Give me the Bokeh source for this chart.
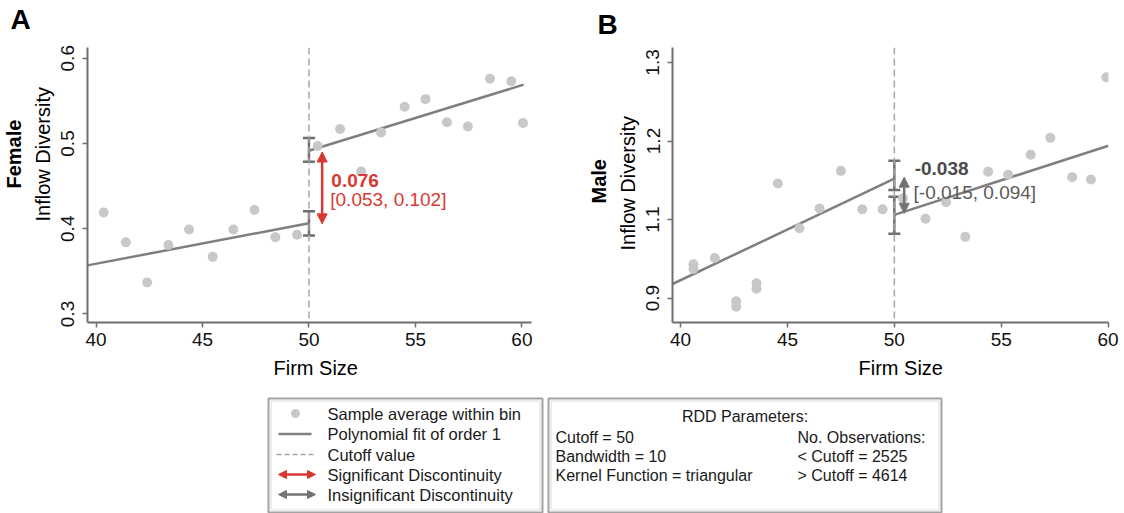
import math
from bokeh.plotting import figure
from bokeh.models import (Range1d, FixedTicker, ColumnDataSource, Whisker, TeeHead,
                          Arrow, NormalHead, Span, Label, Title)
from bokeh.layouts import column, row
from bokeh.embed import file_html
from bokeh.resources import INLINE
from bokeh.core.properties import value

FONT = "Liberation Sans"

# ---------------- data ----------------
x_ticks = [40, 45, 50, 55, 60]
cutoff = 50

# Panel A: Female
a_bin_x = [40.36, 41.4, 42.4, 43.4, 44.37, 45.48, 46.45, 47.44, 48.42, 49.44,
           50.41, 51.46, 52.45, 53.39, 54.49, 55.47, 56.48, 57.46, 58.5, 59.5, 60.05]
a_bin_y = [0.419, 0.384, 0.337, 0.381, 0.399, 0.367, 0.399, 0.422, 0.390, 0.393,
           0.497, 0.517, 0.467, 0.513, 0.543, 0.552, 0.525, 0.520, 0.576, 0.573, 0.524]
a_fit_left_x = [39.6, 50.0]
a_fit_left_y = [0.357, 0.4065]
a_fit_right_x = [50.0, 60.08]
a_fit_right_y = [0.4915, 0.569]
a_ci_left = [0.392, 0.4205]
a_ci_right = [0.4787, 0.5064]
a_jump = [0.4057, 0.490]
a_jump_x = 50.62
a_estimate = "0.076"
a_interval = "[0.053, 0.102]"
a_yticks = [0.3, 0.4, 0.5, 0.6]
a_ytick_labels = ["0.3", "0.4", "0.5", "0.6"]

# Panel B: Male (values on the drawn axis scale)
b_bin_x = [40.6, 40.6, 41.6, 42.6, 42.6, 43.55, 43.55, 44.55, 45.56, 46.5, 47.5, 48.5,
           49.45, 50.4, 51.46, 52.42, 53.32, 54.39, 55.32, 56.38, 57.3, 58.32, 59.2, 59.92]
b_bin_y = [1.043, 1.037, 1.051, 0.996, 0.989, 1.019, 1.012, 1.146, 1.089, 1.114, 1.162,
           1.113, 1.113, 1.127, 1.101, 1.122, 1.078, 1.161, 1.157, 1.1825, 1.204, 1.154,
           1.151, 1.281]
b_fit_left_x = [39.62, 50.0]
b_fit_left_y = [1.018, 1.152]
b_fit_right_x = [50.0, 60.02]
b_fit_right_y = [1.106, 1.194]
b_ci_left = [1.1375, 1.175]
b_ci_right = [1.082, 1.129]
b_jump = [1.108, 1.154]
b_jump_x = 50.46
b_estimate = "-0.038"
b_interval = "[-0.015, 0.094]"
b_yticks = [1.0, 1.1, 1.2, 1.3]
b_ytick_labels = ["0.9", "1.1", "1.2", "1.3"]

# legend / parameter texts
legend_labels = ["Sample average within bin", "Polynomial fit of order 1", "Cutoff value",
                 "Significant Discontinuity", "Insignificant Discontinuity"]
param_title = "RDD Parameters:"
param_left = ["Cutoff = 50", "Bandwidth = 10", "Kernel Function = triangular"]
param_right = ["No. Observations:", "< Cutoff = 2525", "> Cutoff = 4614"]

# ---------------- styles ----------------
DOT = "#c8c8c8"
FIT = "#7f7f7f"
AXIS = "#6e6e6e"
RED = "#d93832"
GREY_ARROW = "#737373"


def make_panel(width, height, xr, yr, borders, bx, by, flx, fly, frx, fry,
               ci_l, ci_r, jump, jx, est, interval, jcolor, est_color, int_color,
               yticks, ylabels, ann_xy, letter, letter_offset, spacer_px, group,
               ylab_offset, group_offset, xlab_offset):
    left, right, top, bottom = borders
    p = figure(width=width, height=height, x_range=Range1d(*xr), y_range=Range1d(*yr),
               output_backend="svg", toolbar_location=None, title=None,
               min_border_left=left, min_border_right=right,
               min_border_top=top, min_border_bottom=bottom)
    p.outline_line_color = None
    p.grid.visible = False
    p.background_fill_color = "white"
    p.border_fill_color = "white"

    # panel letter: a small spacer panel, then the letter (left aligned, shifted left)
    p.add_layout(Title(text=" ", text_font_size=f"{spacer_px}px", standoff=0), "above")
    p.add_layout(Title(text=letter, align="left", offset=letter_offset, text_font=FONT,
                       text_font_size="28px", text_font_style="bold", text_color="black",
                       standoff=2), "above")

    for ax in (p.xaxis[0], p.yaxis[0]):
        ax.axis_line_color = AXIS
        ax.axis_line_width = 2
        ax.major_tick_line_color = AXIS
        ax.major_tick_line_width = 1.5
        ax.major_tick_out = 5
        ax.major_tick_in = 0
        ax.minor_tick_line_color = None
        ax.major_label_text_font = FONT
        ax.major_label_text_font_size = "19px"
        ax.major_label_text_color = "#111111"
    p.xaxis[0].ticker = FixedTicker(ticks=x_ticks)
    p.xaxis[0].major_label_standoff = 5
    p.yaxis[0].ticker = FixedTicker(ticks=yticks)
    p.yaxis[0].major_label_overrides = {t: l for t, l in zip(yticks, ylabels)}
    p.yaxis[0].major_label_orientation = "parallel"
    p.yaxis[0].major_label_standoff = 8

    p.add_layout(Title(text="Firm Size", align="left", offset=xlab_offset, text_font=FONT,
                       text_font_size="20px", text_font_style="normal", text_color="black",
                       standoff=13), "below")
    p.add_layout(Title(text="Inflow Diversity", align="left", offset=ylab_offset,
                       text_font=FONT, text_font_size="20px", text_font_style="normal",
                       text_color="black", standoff=10), "left")
    p.add_layout(Title(text=group, align="left", offset=group_offset, text_font=FONT,
                       text_font_size="20px", text_font_style="bold", text_color="black",
                       standoff=0), "left")

    p.add_layout(Span(location=cutoff, dimension="height", line_color="#a6a6a6",
                      line_width=1.5, line_dash="7 4"))
    p.line(flx, fly, line_color=FIT, line_width=2.5)
    p.line(frx, fry, line_color=FIT, line_width=2.5)
    p.scatter(bx, by, size=10, fill_color=DOT, line_color=None)

    src = ColumnDataSource(dict(x=[cutoff, cutoff], lower=[ci_l[0], ci_r[0]],
                                upper=[ci_l[1], ci_r[1]]))
    p.add_layout(Whisker(source=src, base="x", lower="lower", upper="upper",
                         dimension="height", line_color=AXIS, line_width=2.5,
                         upper_head=TeeHead(size=12, line_color=AXIS, line_width=2.5),
                         lower_head=TeeHead(size=12, line_color=AXIS, line_width=2.5)))

    p.add_layout(Arrow(x_start=jx, y_start=jump[0], x_end=jx, y_end=jump[1],
                       line_color=jcolor, line_width=2.5,
                       start=NormalHead(size=10, fill_color=jcolor, line_color=jcolor),
                       end=NormalHead(size=10, fill_color=jcolor, line_color=jcolor)))

    (ex, ey), (ix, iy) = ann_xy
    p.add_layout(Label(x=ex, y=ey, text=est, text_font=FONT, text_font_size="19px",
                       text_font_style="bold", text_color=est_color, text_baseline="middle"))
    p.add_layout(Label(x=ix, y=iy, text=interval, text_font=FONT, text_font_size="19px",
                       text_color=int_color, text_baseline="middle"))
    return p


pa = make_panel(560, 390, (39.6, 60.45), (0.290, 0.6126), (87, 29, 47, 67),
                a_bin_x, a_bin_y, a_fit_left_x, a_fit_left_y,
                a_fit_right_x, a_fit_right_y, a_ci_left, a_ci_right, a_jump, a_jump_x,
                a_estimate, a_interval, RED, RED, RED, a_yticks, a_ytick_labels,
                ((51.05, 0.457), (51.0, 0.434)), "A", -77, 9, "Female", 101, 134, 186)

pb = make_panel(564, 390, (39.62, 60.02), (0.969, 1.319), (112, 16, 43, 68),
                b_bin_x, b_bin_y, b_fit_left_x, b_fit_left_y,
                b_fit_right_x, b_fit_right_y, b_ci_left, b_ci_right, b_jump, b_jump_x,
                b_estimate, b_interval, GREY_ARROW, "#4a4a4a", "#5a5a5a", b_yticks, b_ytick_labels,
                ((50.95, 1.1645), (50.9, 1.135)), "B", -75, 4, "Male", 72, 119, 186)

# ---------------- legend strip ----------------
pl = figure(width=1124, height=123, x_range=Range1d(0, 1124), y_range=Range1d(513, 390),
            x_axis_type=None, y_axis_type=None, output_backend="svg", toolbar_location=None,
            min_border=0)
pl.outline_line_color = None
pl.grid.visible = False

box_l = [268, 548]
box_r = [542, 941]
pl.quad(left=box_l, right=box_r, top=[398, 398], bottom=[512, 512], fill_color=None,
        line_color="#a3a3a3", line_width=2)
pl.quad(left=[b + 2.5 for b in box_l], right=[b - 2.5 for b in box_r], top=[400.5, 400.5],
        bottom=[509.5, 509.5], fill_color=None, line_color="#dcdcdc", line_width=1)

rows = [413, 433.5, 454, 474, 494]
pl.scatter([295], [rows[0]], size=9, fill_color=DOT, line_color=None)
pl.line([278, 311], [rows[1], rows[1]], line_color=FIT, line_width=2.5)
pl.line([276, 314], [rows[2], rows[2]], line_color="#a6a6a6", line_width=1.5, line_dash="5 3")
for yy, c in ((rows[3], RED), (rows[4], GREY_ARROW)):
    pl.add_layout(Arrow(x_start=278, y_start=yy, x_end=315, y_end=yy, line_color=c, line_width=2.5,
                        start=NormalHead(size=8, fill_color=c, line_color=c),
                        end=NormalHead(size=8, fill_color=c, line_color=c)))
pl.text(x=[327] * 5, y=rows, text=legend_labels, text_font=value(FONT), text_font_size="16.5px",
        text_baseline="middle", text_color="#1a1a1a")

prow = [437, 456, 475]
pl.text(x=[744.5], y=[416], text=[param_title], text_font=value(FONT), text_font_size="16px",
        text_baseline="middle", text_align="center", text_color="#1a1a1a")
pl.text(x=[555] * 3, y=prow, text=param_left, text_font=value(FONT), text_font_size="16px",
        text_baseline="middle", text_color="#1a1a1a")
pl.text(x=[797] * 3, y=prow, text=param_right, text_font=value(FONT), text_font_size="16px",
        text_baseline="middle", text_color="#1a1a1a")

layout = column(row(pa, pb), pl)
open("out.html", "w").write(file_html(layout, INLINE))
